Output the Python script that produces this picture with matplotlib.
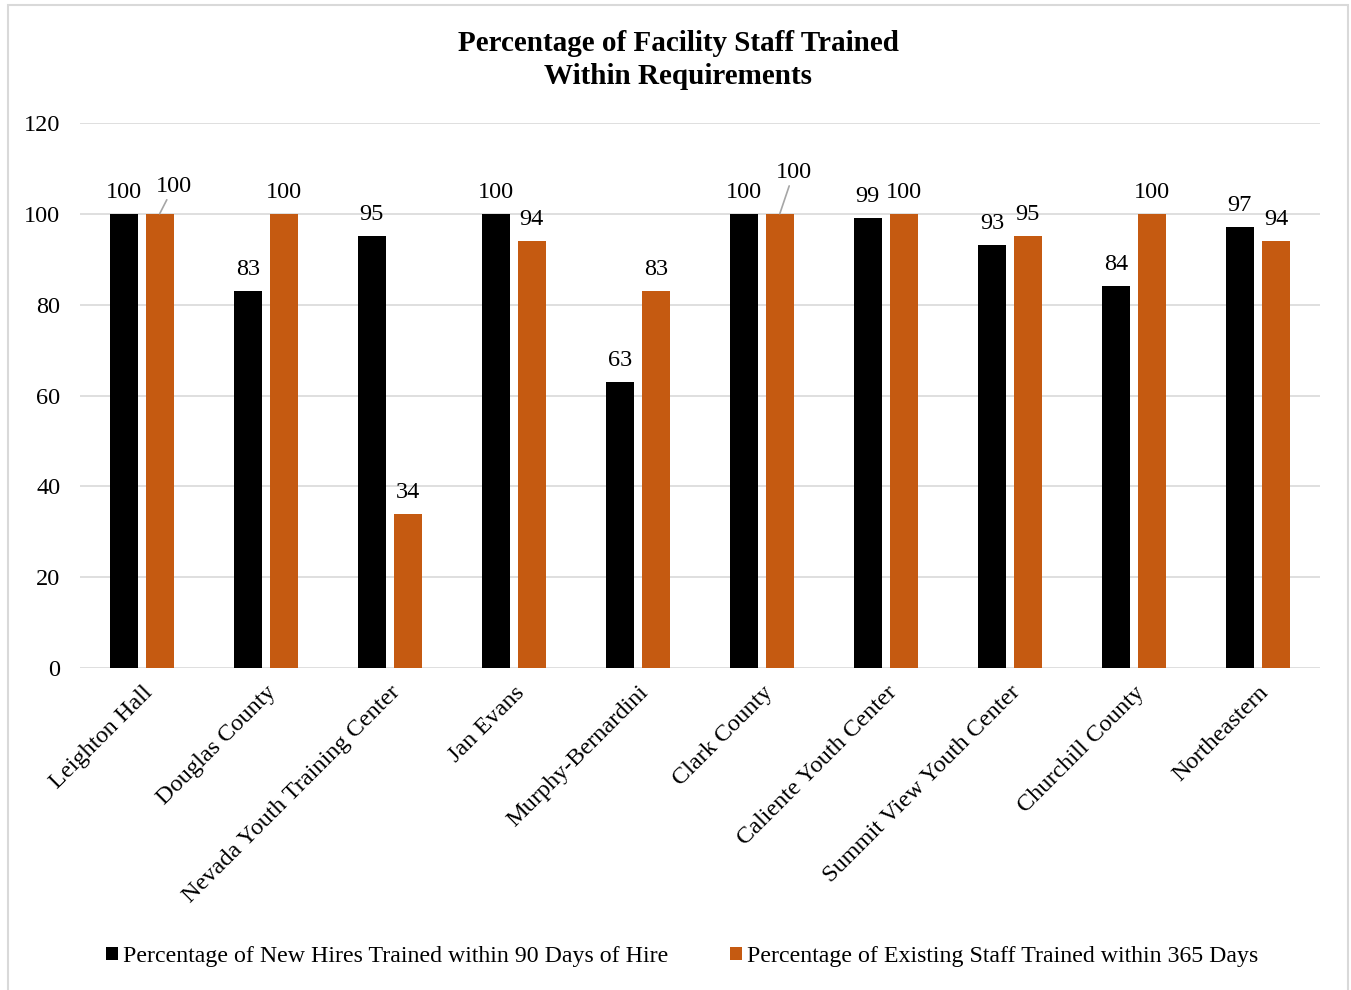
import numpy as np
import matplotlib.pyplot as plt
from matplotlib.patches import Rectangle

plt.rcParams['font.family'] = ['Liberation Serif', 'DejaVu Serif']

facilities = ['Leighton Hall', 'Douglas County', 'Nevada Youth Training Center', 'Jan Evans',
              'Murphy-Bernardini', 'Clark County', 'Caliente Youth Center',
              'Summit View Youth Center', 'Churchill County', 'Northeastern']
new_hires = [100, 83, 95, 100, 63, 100, 99, 93, 84, 97]
existing = [100, 100, 34, 94, 83, 100, 100, 95, 100, 94]
series_names = ['Percentage of New Hires Trained within 90 Days of Hire',
                'Percentage of Existing Staff Trained within 365 Days']

black = '#000000'
orange = '#C55A11'
fs = 17.5

fig = plt.figure(figsize=(13.51, 9.9), dpi=100)
ax = fig.add_axes([0.059, 0.325, 0.918, 0.551])

x = np.arange(len(facilities))
w = 0.225
off = 0.145
b1 = ax.bar(x - off, new_hires, w, color=black, label=series_names[0], zorder=3)
b2 = ax.bar(x + off, existing, w, color=orange, label=series_names[1], zorder=3)

# data labels
for i in range(len(x)):
    ax.annotate(f'{new_hires[i]}', xy=(x[i] - off, new_hires[i]), xytext=(0, 8),
                textcoords='offset points', ha='center', va='bottom', fontsize=fs)
    if i in (0, 5):
        # labels moved up with a leader line
        dy = 12 if i == 0 else 22
        ax.annotate(f'{existing[i]}', xy=(x[i] + off, existing[i]), xytext=(10, dy),
                    textcoords='offset points', ha='center', va='bottom', fontsize=fs,
                    arrowprops=dict(arrowstyle='-', color='#a6a6a6', lw=1.2,
                                    shrinkA=0, shrinkB=0))
    else:
        ax.annotate(f'{existing[i]}', xy=(x[i] + off, existing[i]), xytext=(0, 8),
                    textcoords='offset points', ha='center', va='bottom', fontsize=fs)

ax.set_xlim(-0.5, len(x) - 0.5)
ax.set_ylim(0, 120)
ax.set_yticks(range(0, 121, 20))
ax.yaxis.grid(True, color='#d9d9d9', lw=1.2, zorder=0)
ax.set_axisbelow(True)
for s in ax.spines.values():
    s.set_visible(False)
ax.tick_params(axis='both', length=0, labelsize=fs)
ax.tick_params(axis='y', pad=14)
ax.tick_params(axis='x', pad=10)
ax.set_xticks(x)
ax.set_xticklabels(facilities, rotation=45, ha='right', rotation_mode='anchor')

fig.text(0.502, 0.97, 'Percentage of Facility Staff Trained\nWithin Requirements',
         ha='center', va='top', fontsize=21, fontweight='bold', linespacing=1.3)

fig.legend(handles=[b1, b2], loc='center', bbox_to_anchor=(0.505, 0.034), ncol=2,
           frameon=False, fontsize=17.2, handlelength=0.5, handleheight=0.5,
           handletextpad=0.2, columnspacing=2.6)

fig.patches.append(Rectangle((0.006, -0.01), 0.992, 1.005, transform=fig.transFigure,
                             fill=False, edgecolor='#d9d9d9', lw=1.5))

fig.savefig('out.png', dpi=100)
